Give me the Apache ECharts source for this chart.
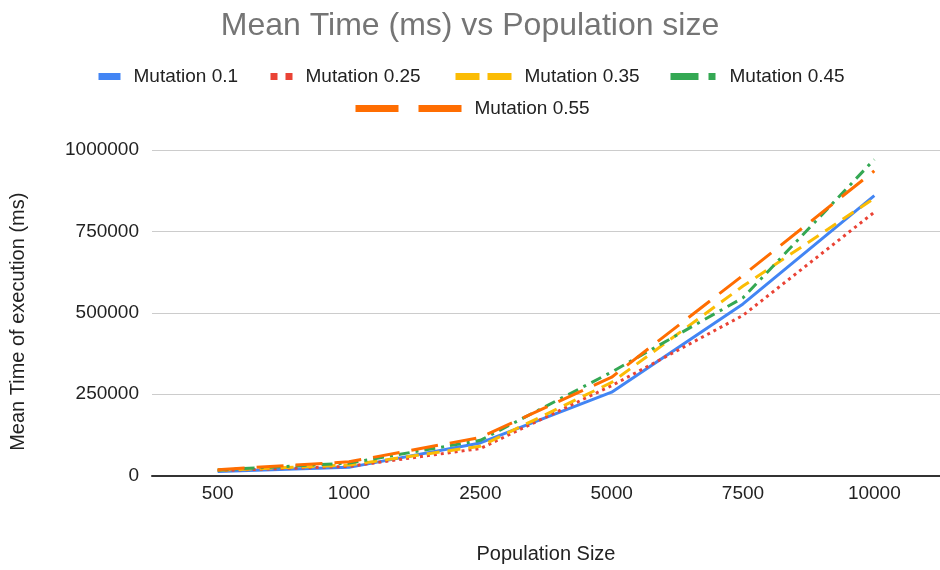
<!DOCTYPE html>
<html>
<head>
<meta charset="utf-8">
<title>Mean Time (ms) vs Population size</title>
<script src="https://cdn.jsdelivr.net/npm/echarts@6/dist/echarts.min.js"></script>
<style>
  html, body { margin: 0; padding: 0; background: #ffffff; }
  #chart { width: 940px; height: 570px; }
</style>
</head>
<body>
<div id="chart"></div>
<script>
// Population sizes on the x axis
const populationSizes = ['500', '1000', '2500', '5000', '7500', '10000'];

// Mean execution time (ms) per mutation rate
const mutation01  = [12000, 25000, 100000, 256000, 527000, 860000];
const mutation025 = [15000, 28000, 83000, 276000, 492000, 809000];
const mutation035 = [16000, 32000, 90000, 286000, 582000, 852000];
const mutation045 = [17000, 38000, 108000, 318000, 546000, 971000];
const mutation055 = [18000, 42000, 117000, 302000, 615000, 936000];

const yTicks = [0, 250000, 500000, 750000, 1000000];

const FONT = '"Liberation Sans", Arial, sans-serif';

// name, values, colour, line dash in plot, dash in legend, legend placement
const seriesDefs = [
  { name: 'Mutation 0.1',  data: mutation01,  color: '#4285F4', dash: 'solid',        legendDash: 'solid',          left: 95,  top: 67, w: 22 },
  { name: 'Mutation 0.25', data: mutation025, color: '#EA4335', dash: [3, 4],         legendDash: [7, 8],           left: 267, top: 67, w: 22 },
  { name: 'Mutation 0.35', data: mutation035, color: '#FBBC04', dash: [13, 8],        legendDash: [24, 8],          left: 452, top: 67, w: 56 },
  { name: 'Mutation 0.45', data: mutation045, color: '#34A853', dash: [11, 6, 3, 6],  legendDash: [28, 10, 7, 10],  left: 667, top: 67, w: 46 },
  { name: 'Mutation 0.55', data: mutation055, color: '#FF6D01', dash: [27, 12],       legendDash: [43, 20],         left: 352, top: 99, w: 106 }
];

const chart = echarts.init(document.getElementById('chart'), null, { renderer: 'canvas' });

const option = {
  backgroundColor: '#ffffff',
  animation: false,
  title: {
    text: 'Mean Time (ms) vs Population size',
    left: 'center',
    top: 5,
    textStyle: { fontFamily: FONT, fontSize: 32, fontWeight: 'normal', color: '#757575' }
  },
  legend: seriesDefs.map(s => ({
    data: [{
      name: s.name,
      lineStyle: { type: s.legendDash, width: 7, cap: 'butt' },
      itemStyle: { opacity: 0 }
    }],
    left: s.left,
    top: s.top,
    padding: 0,
    itemWidth: s.w,
    itemHeight: 14,
    selectedMode: false,
    textStyle: { fontFamily: FONT, fontSize: 19, color: '#222222', padding: [0, 0, 0, 8] }
  })),
  grid: {
    left: 151,
    top: 150,
    width: 793,
    height: 325.5,
    containLabel: false
  },
  xAxis: {
    type: 'category',
    data: populationSizes,
    boundaryGap: true,
    name: 'Population Size',
    nameLocation: 'middle',
    nameGap: 69,
    nameTextStyle: { fontFamily: FONT, fontSize: 20, color: '#222222' },
    axisLine: { lineStyle: { color: '#333333', width: 2 } },
    axisTick: { show: false },
    axisLabel: { fontFamily: FONT, fontSize: 19, color: '#222222', margin: 9 }
  },
  yAxis: {
    type: 'value',
    min: yTicks[0],
    max: yTicks[yTicks.length - 1],
    interval: yTicks[1] - yTicks[0],
    name: 'Mean Time of execution (ms)',
    nameLocation: 'middle',
    nameGap: 124,
    nameTextStyle: { fontFamily: FONT, fontSize: 20, color: '#222222', padding: [0, 18, 0, 0] },
    axisLine: { show: false },
    axisTick: { show: false },
    axisLabel: {
      fontFamily: FONT, fontSize: 19, color: '#222222', margin: 13,
      formatter: v => String(v)
    },
    splitLine: { lineStyle: { color: '#cccccc', width: 1 } }
  },
  series: seriesDefs.map(s => ({
    name: s.name,
    type: 'line',
    data: s.data,
    color: s.color,
    showSymbol: false,
    symbol: 'none',
    lineStyle: { color: s.color, width: 3, type: s.dash, cap: 'butt', join: 'round' },
    emphasis: { disabled: true }
  }))
};

chart.setOption(option);
</script>
</body>
</html>
